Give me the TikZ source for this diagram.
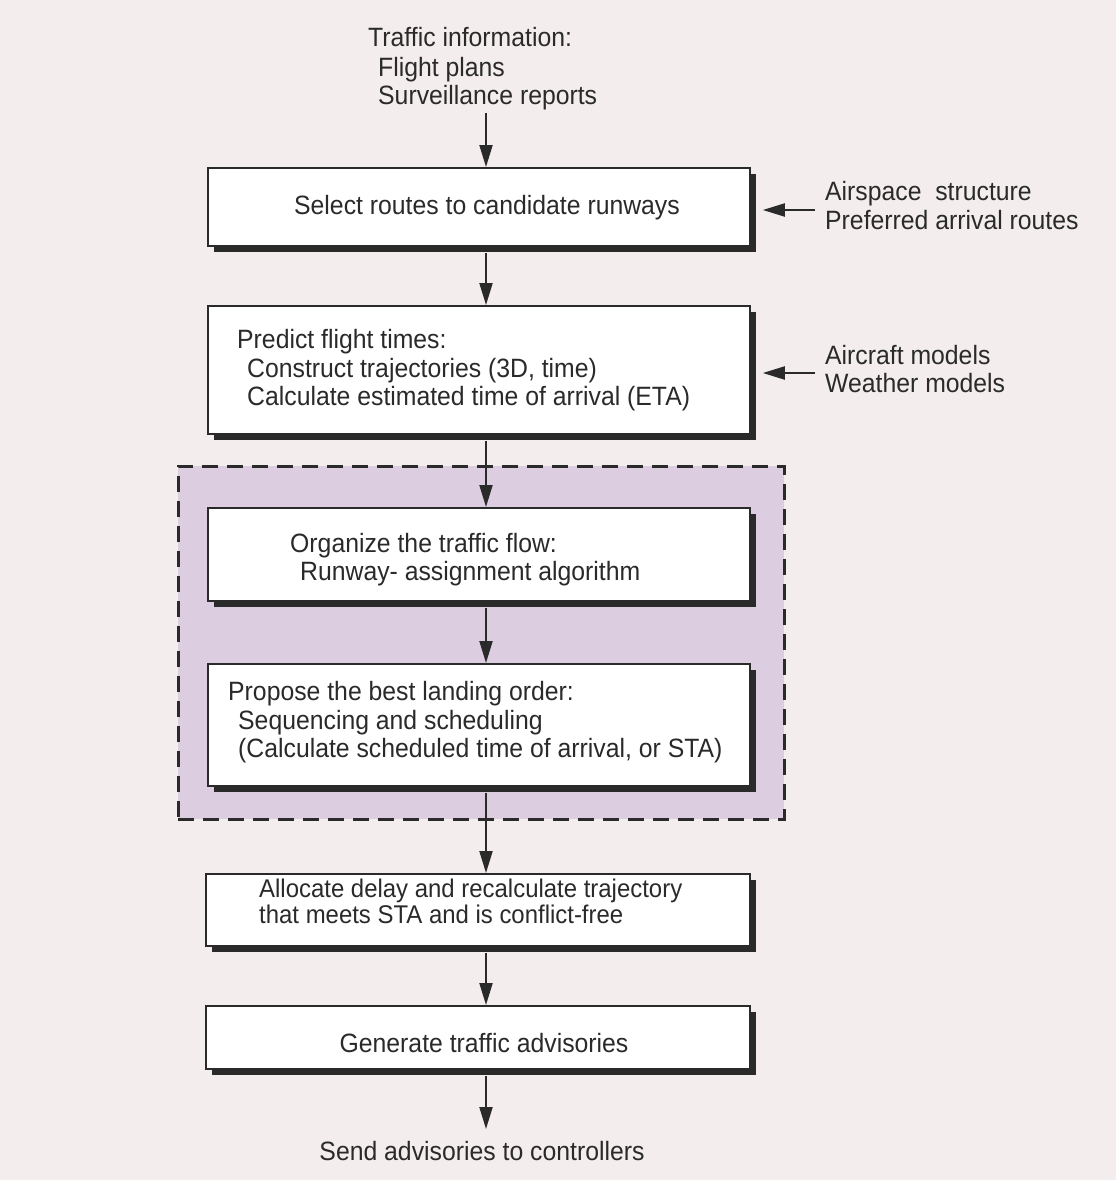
\documentclass[tikz,border=0pt]{standalone}
\usepackage{fontspec}
\setmainfont{Liberation Sans}[FakeStretch=0.935]
\usetikzlibrary{arrows.meta,shadows}
\definecolor{bg}{HTML}{F3EDED}
\definecolor{lilac}{HTML}{DDCDE0}
\definecolor{ink}{HTML}{2A2A2A}
\tikzset{
  box/.style={draw=ink, line width=1.8pt, fill=white, rectangle, inner sep=0pt,
    drop shadow={shadow xshift=6pt, shadow yshift=-6pt, fill=ink, opacity=1}},
  txt/.style={anchor=base west, inner sep=0pt, text=ink, font=\fontsize{26.5}{30}\selectfont},
  stxt/.style={anchor=base west, inner sep=0pt, text=ink, font=\fontsize{25.6}{29}\selectfont},
  ctxt/.style={anchor=base, inner sep=0pt, text=ink, font=\fontsize{26.5}{30}\selectfont},
  flow/.style={draw=ink, line width=2pt, -{Triangle[length=22pt,width=13pt]}},
}
\begin{document}
\begin{tikzpicture}[x=1pt,y=-1pt]
\fill[bg] (0,0) rectangle (1116,1180);
\useasboundingbox (0,0) rectangle (1116,1180);
% dashed group
\node[draw=ink, dash pattern=on 16pt off 9pt, line width=2.6pt, fill=lilac, rectangle,
  minimum width=606pt, minimum height=353pt, anchor=north west, inner sep=0pt] (grp) at (177,465) {};
% boxes
\node[box, minimum width=542pt, minimum height=78pt, anchor=north west] (b1) at (207,167) {};
\node[box, minimum width=542pt, minimum height=128pt, anchor=north west] (b2) at (207,305) {};
\node[box, minimum width=542pt, minimum height=93pt, anchor=north west] (b3) at (207,507) {};
\node[box, minimum width=542pt, minimum height=122pt, anchor=north west] (b4) at (207,663) {};
\node[box, minimum width=544pt, minimum height=72pt, anchor=north west] (b5) at (205,873) {};
\node[box, minimum width=544pt, minimum height=63pt, anchor=north west] (b6) at (205,1005) {};
% top text
\node[txt] (t1) at (368,47) {Traffic information:};
\node[txt] (t2) at (378,77) {Flight plans};
\node[txt] (t3) at (378,105) {Surveillance reports};
\coordinate (top) at (486,113);
% box texts
\node[ctxt] (l1) at (487,214) {Select routes to candidate runways};
\node[txt] (l2a) at (237,348) {Predict flight times:};
\node[txt] (l2b) at (247,377) {Construct trajectories (3D, time)};
\node[txt] (l2c) at (247,405) {Calculate estimated time of arrival (ETA)};
\node[txt] (l3a) at (290,552) {Organize the traffic flow:};
\node[txt] (l3b) at (300,580) {Runway- assignment algorithm};
\node[txt] (l4a) at (228,700) {Propose the best landing order:};
\node[txt] (l4b) at (238,729) {Sequencing and scheduling};
\node[txt] (l4c) at (238,757) {(Calculate scheduled time of arrival, or STA)};
\node[stxt] (l5a) at (259,897) {Allocate delay and recalculate trajectory};
\node[stxt] (l5b) at (259,923) {that meets STA and is conflict-free};
\node[ctxt] (l6) at (484,1052) {Generate traffic advisories};
\node[ctxt] (bot) at (482,1160) {Send advisories to controllers};
% side texts
\node[txt] (s1a) at (825,200) {Airspace\ \ structure};
\node[txt] (s1b) at (825,229) {Preferred arrival routes};
\node[txt] (s2a) at (825,364) {Aircraft models};
\node[txt] (s2b) at (825,392) {Weather models};
\coordinate (in1) at (815,210);
\coordinate (in2) at (815,373);
% connectors
\draw[flow] (top) -- (b1.north -| top);
\draw[flow] (b1.south -| top) ++(0,6) -- (b2.north -| top);
\draw[flow] (b2.south -| top) ++(0,6) -- (b3.north -| top);
\draw[flow] (b3.south -| top) ++(0,6) -- (b4.north -| top);
\draw[flow] (b4.south -| top) ++(0,6) -- (b5.north -| top);
\draw[flow] (b5.south -| top) ++(0,6) -- (b6.north -| top);
\draw[flow] (b6.south -| top) ++(0,6) -- (486,1129);
\draw[flow] (in1) -- ([xshift=12pt]b1.east |- in1);
\draw[flow] (in2) -- ([xshift=12pt]b2.east |- in2);
\end{tikzpicture}
\end{document}
